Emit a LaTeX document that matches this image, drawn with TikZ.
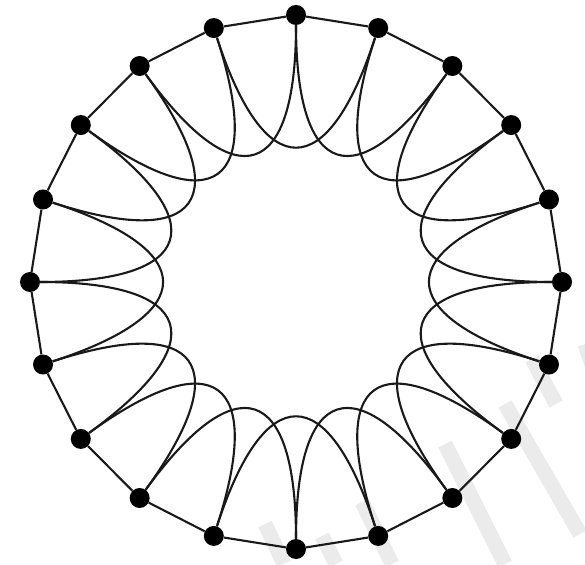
\documentclass[tikz,border=0pt]{standalone}
\begin{document}
\begin{tikzpicture}[x=1pt,y=1pt,
  vtx/.style={circle,fill=black,inner sep=0pt,minimum size=20pt},
  rim/.style={line width=2.1pt,black!90},
  chord/.style={line width=2.1pt,black!90,looseness=2.5},
  wm/.style={line width=15pt,black!8,line cap=butt}]
\useasboundingbox (0,0) rectangle (585,564);
% faint watermark bands
\draw[wm] (265,40) -- (284,0);
\draw[wm] (322,28) -- (336,0);
\draw[wm] (362,62) -- (392,0);
\draw[wm] (445,120) -- (505,0);
\draw[wm] (505,160) -- (580,30);
\draw[wm] (532,205) -- (556,160);
\draw[wm] (585,220) -- (595,190);
% vertices
\foreach \i in {0,...,19}{
  \pgfmathsetmacro{\ang}{90-18*\i}
  \node[vtx] (v\i) at ({296+266*cos(\ang)},{282+267*sin(\ang)}) {};
}
% rim edges
\foreach \i in {0,...,19}{
  \pgfmathtruncatemacro{\j}{mod(\i+1,20)}
  \draw[rim] (v\i) -- (v\j);
}
% distance-two edges
\foreach \i in {0,...,19}{
  \pgfmathtruncatemacro{\j}{mod(\i+2,20)}
  \pgfmathsetmacro{\oa}{270-18*\i}
  \pgfmathsetmacro{\ia}{270-18*(\i+2)}
  \draw[chord] (v\i) to[out=\oa,in=\ia] (v\j);
}
\end{tikzpicture}
\end{document}
